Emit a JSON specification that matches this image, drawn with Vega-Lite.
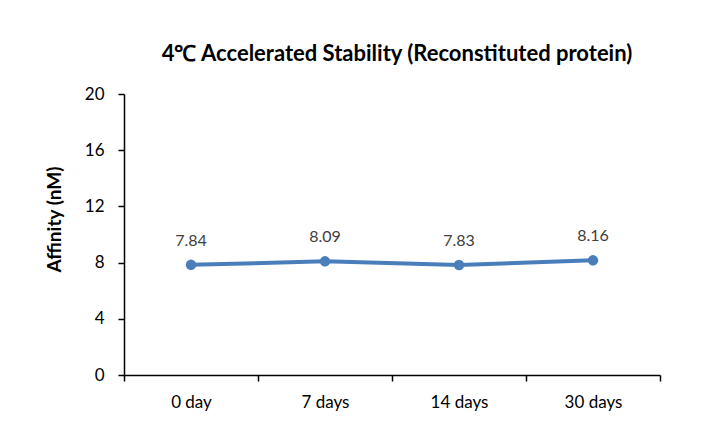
{
  "$schema": "https://vega.github.io/schema/vega-lite/v6.json",
  "width": 536,
  "height": 281,
  "autosize": {"type": "none"},
  "padding": {"left": 124, "top": 94, "right": 66, "bottom": 64},
  "background": "white",
  "config": {"view": {"stroke": null}, "font": "Lato"},
  "title": {
    "text": "4℃ Accelerated Stability (Reconstituted protein)",
    "font": "Lato",
    "fontSize": 22,
    "fontWeight": "bold",
    "color": "#000000",
    "anchor": "middle",
    "dx": 5,
    "offset": 19
  },
  "data": {
    "values": [
      {"time": "0 day", "affinity": 7.84},
      {"time": "7 days", "affinity": 8.09},
      {"time": "14 days", "affinity": 7.83},
      {"time": "30 days", "affinity": 8.16}
    ]
  },
  "encoding": {
    "x": {
      "field": "time",
      "type": "nominal",
      "sort": null,
      "bandPosition": 0.5,
      "scale": {"type": "band", "paddingInner": 0, "paddingOuter": 0},
      "axis": {
        "title": null,
        "labelAngle": 0,
        "labelFont": "Lato",
        "labelFontSize": 17,
        "labelColor": "#000000",
        "labelPadding": 13,
        "domainColor": "#000000",
        "domainWidth": 1.5,
        "tickColor": "#000000",
        "tickWidth": 1.5,
        "tickSize": 6,
        "tickBand": "extent",
        "grid": false
      }
    },
    "y": {
      "field": "affinity",
      "type": "quantitative",
      "scale": {"domain": [0, 20], "nice": false, "zero": true},
      "axis": {
        "title": "Affinity (nM)",
        "titleFont": "Lato",
        "titleFontSize": 19,
        "titleFontWeight": "bold",
        "titleColor": "#000000",
        "titlePadding": 20,
        "titleY": 125,
        "values": [0, 4, 8, 12, 16, 20],
        "labelFont": "Lato",
        "labelFontSize": 17,
        "labelColor": "#000000",
        "labelPadding": 14,
        "domainColor": "#000000",
        "domainWidth": 1.5,
        "tickColor": "#000000",
        "tickWidth": 1.5,
        "tickSize": 6,
        "grid": false
      }
    }
  },
  "layer": [
    {
      "mark": {"type": "line", "color": "#4a7ebb", "strokeWidth": 4, "point": {"filled": true, "size": 110, "color": "#4a7ebb"}}
    },
    {
      "mark": {"type": "text", "dy": -24, "fontSize": 16, "font": "Lato", "color": "#404040"},
      "encoding": {"text": {"field": "affinity", "type": "quantitative", "format": ".2f"}}
    }
  ]
}
